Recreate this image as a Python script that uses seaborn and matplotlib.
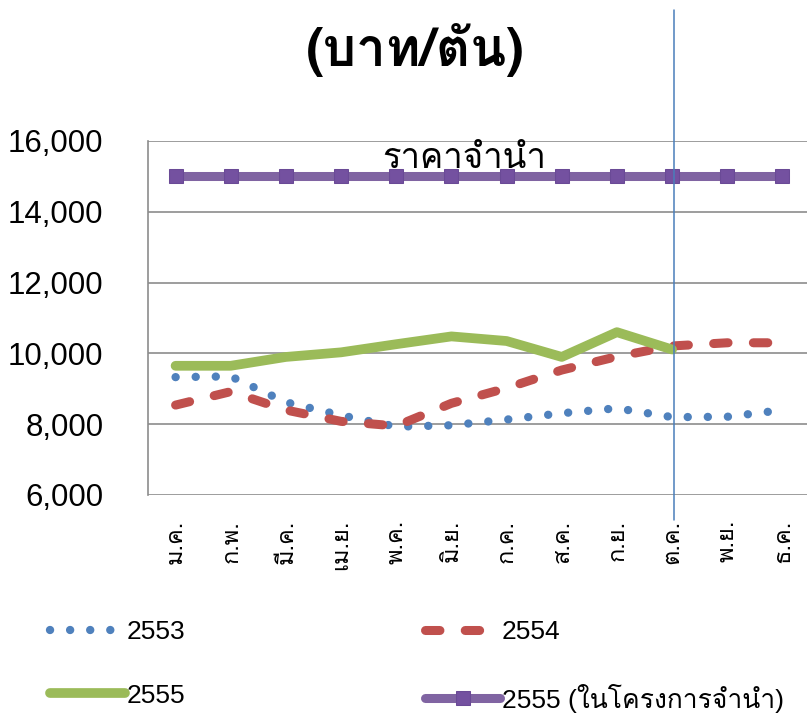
import numpy as np
import pandas as pd
import seaborn as sns
import matplotlib
matplotlib.use("Agg")
import matplotlib.pyplot as plt
from matplotlib import font_manager
from matplotlib.ft2font import FT2Font
from matplotlib.ticker import FuncFormatter

# data (baht per ton)
months = ["ม.ค.", "ก.พ.", "มี.ค.", "เม.ย.", "พ.ค.", "มิ.ย.",
          "ก.ค.", "ส.ค.", "ก.ย.", "ต.ค.", "พ.ย.", "ธ.ค."]
price_2553 = [9330, 9350, 8620, 8250, 7930, 7970, 8130, 8310, 8450, 8200, 8210, 8400]
price_2554 = [8540, 8920, 8400, 8080, 7950, 8590, 9020, 9530, 9910, 10210, 10300, 10300]
price_2555 = [9650, 9650, 9900, 10030, 10260, 10480, 10350, 9900, 10600, 10110]
pledge_2555 = [15000] * 12
y_ticks = [6000, 8000, 10000, 12000, 14000, 16000]


# find a font that can draw thai
def thai_fonts():
    found = []
    for f in font_manager.fontManager.ttflist:
        try:
            cmap = FT2Font(f.fname).get_charmap()
        except Exception:
            continue
        if 0x0E01 in cmap and 0x0E33 in cmap:
            found.append(f.name)
    return list(dict.fromkeys(found))


thai = thai_fonts()
sns.set_style("white")
plt.rcParams['font.family'] = ['Liberation Sans'] + thai + ['DejaVu Sans']
plt.rcParams['text.color'] = 'black'
plt.rcParams['xtick.color'] = 'black'
plt.rcParams['ytick.color'] = 'black'
thai_fam = thai + ['DejaVu Sans']

fig = plt.figure(figsize=(8.07, 7.14), dpi=100)
ax = fig.add_axes([148 / 807, 1 - 495 / 714, 662 / 807, 354 / 714])

x = np.arange(len(months))
sns.lineplot(x=x, y=price_2553, ax=ax, color='#4F81BD', lw=6,
             linestyle=(0, (0.01, 2.4)), solid_capstyle='round',
             dash_capstyle='round', label='2553')
sns.lineplot(x=x, y=price_2554, ax=ax, color='#C0504D', lw=6.5,
             linestyle=(0, (1.6, 2.8)), dash_capstyle='round', label='2554')
sns.lineplot(x=x[:len(price_2555)], y=price_2555, ax=ax, color='#9BBB59',
             lw=7, solid_capstyle='round', label='2555')
sns.lineplot(x=x, y=pledge_2555, ax=ax, color='#8064A2', lw=6.5,
             marker='s', markersize=10, markerfacecolor='#7451A0',
             markeredgecolor='#6A4A96', solid_capstyle='round',
             label='2555 (ในโครงการจำนำ)')

ax.set_xlim(-0.5, len(months) - 0.5)
ax.set_ylim(6000, 16000)
ax.set_yticks(y_ticks)
ax.yaxis.set_major_formatter(FuncFormatter(lambda v, p: f"{int(v):,}"))
ax.set_xticks(x)
ax.set_xticklabels(months, rotation=90, fontsize=17, family=thai_fam)
ax.tick_params(axis='y', labelsize=22.5, pad=32, length=0)
ax.tick_params(axis='x', pad=18, length=0)
ax.grid(axis='y', color='#8C8C8C', lw=1.2)
for s in ['top', 'right', 'bottom']:
    ax.spines[s].set_visible(False)
ax.spines['left'].set_color('#8C8C8C')
ax.spines['left'].set_linewidth(1.2)
ax.set_xlabel('')
ax.set_ylabel('')

# marker line for October
ax.axvline(9.03, ymin=-0.07, ymax=1.37, color='#4A7EBB', lw=1.1, clip_on=False)

ax.text(5.24, 15480, 'ราคาจำนำ', ha='center', va='center', fontsize=25,
        family=thai_fam)
fig.text(415 / 807, 1 - 50 / 714, '(บาท/ตัน)', ha='center', va='center',
         fontsize=38, fontweight='bold', family=thai_fam)

h, l = ax.get_legend_handles_labels()
order = [0, 2, 1, 3]
ax.legend([h[i] for i in order], [l[i] for i in order], ncol=2,
          loc='upper left', bbox_to_anchor=(50 / 807, 1 - 620 / 714),
          bbox_transform=fig.transFigure, frameon=False, fontsize=19,
          handlelength=2.85, handletextpad=0.05, columnspacing=9.1,
          labelspacing=1.5, borderpad=0, borderaxespad=0)

fig.savefig('out.png', dpi=100)
